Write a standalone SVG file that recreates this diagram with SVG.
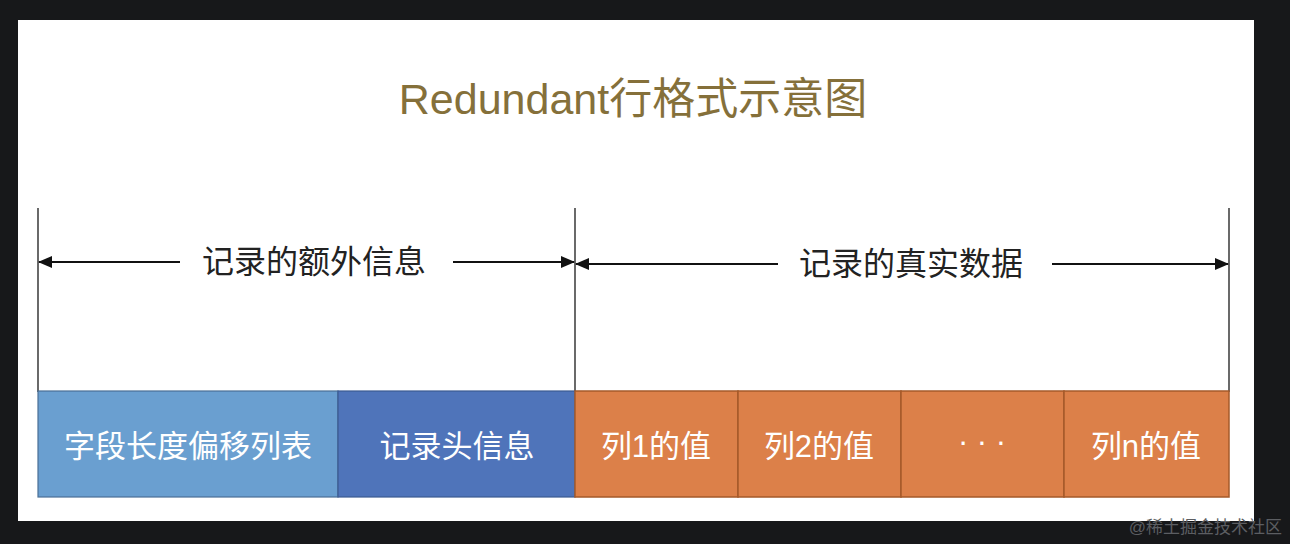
<svg xmlns="http://www.w3.org/2000/svg" width="1290" height="544" viewBox="0 0 1290 544">
<style>
.cjk{font-family:"Liberation Sans","Noto Sans CJK SC",sans-serif}
.lbl{font-size:32px;fill:#222;text-anchor:middle}
.box{font-size:31px;fill:#ffffff;text-anchor:middle}
.vl{stroke:#444;stroke-width:1.6;fill:none}
.ar{stroke:#111;stroke-width:1.8;fill:none}
.org{fill:#dc8049;stroke:#a55a2a;stroke-width:1.5}
</style>
<defs>
<marker id="ah" markerWidth="14" markerHeight="12" refX="13" refY="6" orient="auto" markerUnits="userSpaceOnUse">
<path d="M0,0 L14,6 L0,12 Z" fill="#111"/>
</marker>
</defs>
<rect x="0" y="0" width="1290" height="544" fill="#17181a"/>
<rect x="18" y="20" width="1236" height="501" fill="#ffffff"/>
<text class="cjk" x="633" y="114" font-size="43" fill="#85703a" text-anchor="middle">Redundant行格式示意图</text>
<g id="connectors">
<line class="vl" x1="38" y1="208" x2="38" y2="392"/>
<line class="vl" x1="575" y1="208" x2="575" y2="392"/>
<line class="vl" x1="1229" y1="208" x2="1229" y2="392"/>
<line class="ar" x1="180" y1="262" x2="39" y2="262" marker-end="url(#ah)"/>
<line class="ar" x1="453" y1="262" x2="574" y2="262" marker-end="url(#ah)"/>
<line class="ar" x1="778" y1="264" x2="576" y2="264" marker-end="url(#ah)"/>
<line class="ar" x1="1052" y1="264" x2="1228" y2="264" marker-end="url(#ah)"/>
</g>
<g id="label-extra"><text class="cjk lbl" x="314" y="273">记录的额外信息</text></g>
<g id="label-real"><text class="cjk lbl" x="911" y="275">记录的真实数据</text></g>
<g id="node-offsets">
<rect x="38" y="391" width="300" height="106" fill="#6a9fd0" stroke="#4a6f96" stroke-width="1.2"/>
<text class="cjk box" x="188" y="457">字段长度偏移列表</text>
</g>
<g id="node-header">
<rect x="338" y="391" width="237" height="106" fill="#4f74ba" stroke="#3b5a92" stroke-width="1.2"/>
<text class="cjk box" x="457" y="457">记录头信息</text>
</g>
<g id="node-col1">
<rect class="org" x="575" y="391" width="163" height="106"/>
<text class="cjk box" x="656" y="457">列1的值</text>
</g>
<g id="node-col2">
<rect class="org" x="738" y="391" width="163" height="106"/>
<text class="cjk box" x="819" y="457">列2的值</text>
</g>
<g id="node-dots">
<rect class="org" x="901" y="391" width="163" height="106"/>
<text class="cjk box" x="982" y="452" font-size="22">· · ·</text>
</g>
<g id="node-coln">
<rect class="org" x="1064" y="391" width="165" height="106"/>
<text class="cjk box" x="1146" y="457">列n的值</text>
</g>
<text class="cjk" x="1282" y="533" font-size="17" fill="#5c5e62" text-anchor="end">@稀土掘金技术社区</text>
</svg>
